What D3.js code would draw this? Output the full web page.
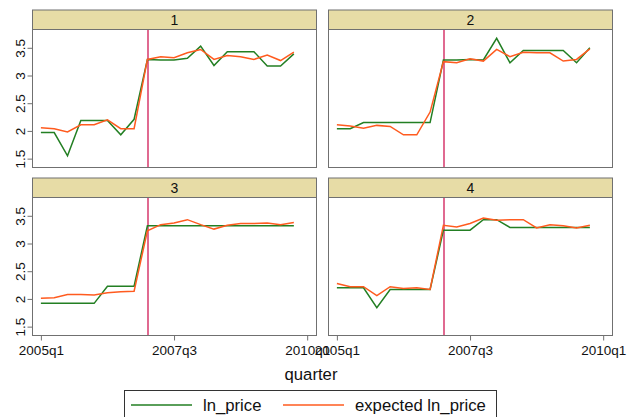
<!DOCTYPE html>
<html lang="en">
<head>
    <meta charset="UTF-8">
    <title>ln_price by panel</title>
    <script src="https://d3js.org/d3.v7.min.js"></script>
    <style>
        body { margin: 0; background: #fff; }
        text { font-family: "Liberation Sans", Arial, sans-serif; fill: #111; }
    </style>
</head>
<body>
<svg width="627" height="417"></svg>
<script>

    // quarters 2005q1 .. 2009q4 as index 0..19
    let quarters = d3.range(20);
    let tickQuarters = [0, 10, 20];
    let tickQuarterLabels = ["2005q1", "2007q3", "2010q1"];
    let yTicks = [1.5, 2, 2.5, 3, 3.5];
    let treatQuarter = 8;   // 2007q1
    let panelIds = ["1", "2", "3", "4"];

    let lnPrice1 = [1.97, 1.97, 1.55, 2.19, 2.19, 2.19, 1.93, 2.21, 3.29, 3.28, 3.28, 3.31, 3.53, 3.18, 3.43, 3.43, 3.43, 3.17, 3.17, 3.39];
    let expected1 = [2.055, 2.04, 1.98, 2.11, 2.11, 2.20, 2.04, 2.04, 3.29, 3.34, 3.32, 3.41, 3.47, 3.29, 3.36, 3.34, 3.29, 3.37, 3.27, 3.42];
    let lnPrice2 = [2.04, 2.04, 2.15, 2.15, 2.15, 2.15, 2.15, 2.15, 3.28, 3.28, 3.29, 3.28, 3.67, 3.23, 3.45, 3.45, 3.45, 3.45, 3.23, 3.50];
    let expected2 = [2.11, 2.09, 2.05, 2.10, 2.08, 1.93, 1.93, 2.34, 3.25, 3.23, 3.30, 3.26, 3.47, 3.34, 3.42, 3.41, 3.41, 3.26, 3.29, 3.48];
    let lnPrice3 = [1.92, 1.92, 1.92, 1.92, 1.92, 2.23, 2.23, 2.23, 3.32, 3.32, 3.32, 3.32, 3.32, 3.32, 3.32, 3.32, 3.32, 3.32, 3.32, 3.32];
    let expected3 = [2.01, 2.02, 2.08, 2.08, 2.07, 2.11, 2.13, 2.14, 3.23, 3.34, 3.37, 3.43, 3.34, 3.26, 3.33, 3.36, 3.36, 3.37, 3.34, 3.38];
    let lnPrice4 = [2.20, 2.20, 2.20, 1.84, 2.17, 2.17, 2.17, 2.17, 3.24, 3.24, 3.24, 3.43, 3.43, 3.29, 3.29, 3.29, 3.29, 3.29, 3.29, 3.29];
    let expected4 = [2.28, 2.22, 2.22, 2.06, 2.22, 2.19, 2.20, 2.17, 3.33, 3.30, 3.36, 3.46, 3.42, 3.43, 3.43, 3.28, 3.34, 3.32, 3.28, 3.33];

    let lnPrice = [lnPrice1, lnPrice2, lnPrice3, lnPrice4];
    let expected = [expected1, expected2, expected3, expected4];

    let green = "#237f23",
        orange = "#ff5b1f",
        crimson = "#d01a55",
        stripFill = "#e7dca6",
        frame = "#707070";

    let svg = d3.select("svg");

    let colLeft = [32.5, 328.5],
        panelW = 284,
        rowTop = [10, 178],
        stripH = 19.5,
        plotH = 138;

    let x0 = d3.scaleLinear().domain([-0.63, 20.7]).range([0, panelW]);
    let y = d3.scaleLinear().domain([1.34, 3.83]).range([plotH, 0]);

    let line = d3.line()
        .x(function(d, i) { return x0(quarters[i]); })
        .y(function(d) { return y(d); });

    panelIds.forEach(function(id, p) {
        let col = p % 2, row = Math.floor(p / 2);
        let g = svg.append("g")
            .attr("transform", "translate(" + colLeft[col] + "," + rowTop[row] + ")");

        // strip
        g.append("rect")
            .attr("x", 0).attr("y", 0)
            .attr("width", panelW).attr("height", stripH)
            .attr("fill", stripFill).attr("stroke", frame).attr("stroke-width", 1);
        g.append("text")
            .attr("x", panelW / 2).attr("y", stripH / 2 + 5)
            .attr("text-anchor", "middle")
            .style("font-size", "14px")
            .text(id);

        let plot = g.append("g").attr("transform", "translate(0," + stripH + ")");

        plot.append("rect")
            .attr("width", panelW).attr("height", plotH)
            .attr("fill", "#fff");

        // vertical line at 2007q1
        let vx = Math.round(x0(treatQuarter)) + 0.5;
        plot.append("line")
            .attr("x1", vx).attr("x2", vx)
            .attr("y1", 0).attr("y2", plotH)
            .attr("stroke", crimson).attr("stroke-width", 1.3);

        plot.append("path")
            .datum(lnPrice[p])
            .attr("d", line)
            .attr("fill", "none").attr("stroke", green).attr("stroke-width", 1.5);

        plot.append("path")
            .datum(expected[p])
            .attr("d", line)
            .attr("fill", "none").attr("stroke", orange).attr("stroke-width", 1.5);

        plot.append("rect")
            .attr("width", panelW).attr("height", plotH)
            .attr("fill", "none").attr("stroke", frame).attr("stroke-width", 1);

        if (col === 0) {
            let ya = plot.append("g")
                .call(d3.axisLeft(y).tickValues(yTicks).tickSize(5).tickPadding(3)
                    .tickFormat(d3.format("")));
            ya.select(".domain").remove();
            ya.selectAll("line").attr("stroke", frame);
            ya.selectAll(".tick text")
                .style("font-size", "13.5px")
                .attr("text-anchor", "middle")
                .attr("transform", "rotate(-90)")
                .attr("x", 0).attr("y", -7.5).attr("dy", 0);
        }

        if (row === 1) {
            let xa = plot.append("g")
                .attr("transform", "translate(0," + plotH + ")")
                .call(d3.axisBottom(x0).tickValues(tickQuarters).tickSize(5).tickPadding(5)
                    .tickFormat(function(d, i) { return tickQuarterLabels[i]; }));
            xa.select(".domain").remove();
            xa.selectAll("line").attr("stroke", frame);
            xa.selectAll("text").style("font-size", "13.5px");
        }
    });

    // axis title
    svg.append("text")
        .attr("x", 311).attr("y", 380)
        .attr("text-anchor", "middle")
        .style("font-size", "16.7px")
        .text("quarter");

    // legend
    let legend = svg.append("g");
    legend.append("rect")
        .attr("x", 124.5).attr("y", 390.5)
        .attr("width", 372).attr("height", 40)
        .attr("fill", "#fff").attr("stroke", "#333").attr("stroke-width", 1);

    let legendItems = [
        {label: "ln_price", color: green, x: 131},
        {label: "expected ln_price", color: orange, x: 283}
    ];
    legendItems.forEach(function(d) {
        legend.append("line")
            .attr("x1", d.x).attr("x2", d.x + 61)
            .attr("y1", 405).attr("y2", 405)
            .attr("stroke", d.color).attr("stroke-width", 1.5);
        legend.append("text")
            .attr("x", d.x + 72).attr("y", 411)
            .style("font-size", "16.7px")
            .text(d.label);
    });

</script>
</body>
</html>
